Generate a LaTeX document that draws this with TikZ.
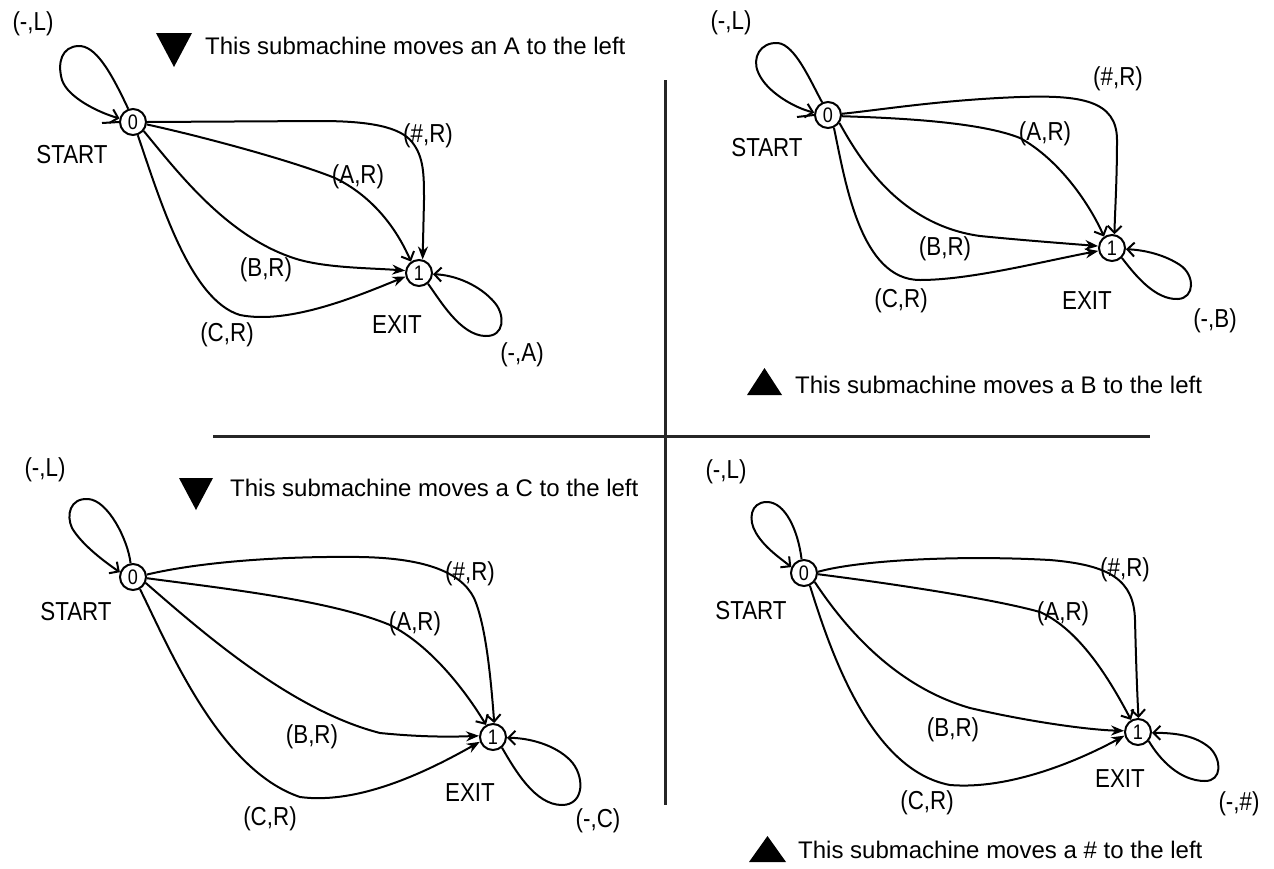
\documentclass[tikz,border=0pt]{standalone}
\usepackage{fontspec}
\setmainfont{Liberation Sans}
\newfontfamily\lblfont[FakeStretch=0.86]{Liberation Sans}
\usetikzlibrary{arrows.meta}
\tikzset{
  stnode/.style={circle,draw,line width=2pt,minimum size=26pt,inner sep=0pt,
    font=\lblfont\fontsize{21}{21}\selectfont},
  lbl/.style={inner sep=0pt,font=\lblfont\fontsize{26}{26}\selectfont},
  captxt/.style={inner sep=0pt,anchor=west,font=\fontsize{24}{24}\selectfont},
  wire/.style={line width=2pt},
  barb/.style={wire,-{Straight Barb[length=7pt,width=14pt,line width=2pt]}},
  solidtip/.style={wire,-{Stealth[length=13pt,width=10pt]}},
  divider/.style={line width=3pt,draw=black!85}
}
\begin{document}
\begin{tikzpicture}[x=1pt,y=-1pt]
\useasboundingbox (0,0) rectangle (1274,868);

% dividers between the four submachines
\coordinate (vtop) at (665,80);
\coordinate (vbot) at (665,805);
\coordinate (hl) at (213,436);
\coordinate (hr) at (1150,436);
\draw[divider] (vtop) -- (vbot);
\draw[divider] (hl) -- (hr);

% ---------- submachine for A (top left) ----------
\node[stnode] (q1s0) at (133,122) {0};
\node[stnode] (q1s1) at (419,273) {1};
\node[lbl] (q1L) at (33,24) {(-,L)};
\node[lbl] (q1start) at (72,155) {START};
\node[lbl] (q1exit) at (397,325) {EXIT};
\node[lbl] (q1loop) at (522,355) {(-,A)};
\node[lbl] (q1h) at (428,136) {(\#,R)};
\node[lbl] (q1a) at (358,177) {(A,R)};
\node[lbl] (q1b) at (266,270) {(B,R)};
\node[lbl] (q1c) at (227,335) {(C,R)};
\fill (156,33) -- (192,33) -- (174,67) -- cycle;
\node[captxt] (q1cap) at (205,46) {This submachine moves an A to the left};
\coordinate (q1stub) at (102,123);
\draw[wire] (q1stub) -- (q1s0.west);
\draw[barb] (q1s0.110) .. controls (110,70) and (95,45) .. (78,46)
  .. controls (62,47) and (57,62) .. (62,80)
  .. controls (68,98) and (100,113) .. (q1s0.165);
\draw[solidtip] (q1s0.east) -- (320,121) .. controls (370,121) and (400,127) .. (412,142)
  .. controls (424,157) and (424,175) .. (424,200) -- (q1s1.75);
\draw[barb] (q1s0.-10) .. controls (200,136) and (290,160) .. (335,178)
  .. controls (370,195) and (395,225) .. (q1s1.125);
\draw[solidtip] (q1s0.-40) .. controls (180,175) and (230,240) .. (300,260)
  .. controls (330,268) and (370,268) .. (q1s1.170);
\draw[solidtip] (q1s0.-70) .. controls (160,200) and (190,300) .. (240,315)
  .. controls (290,325) and (360,295) .. (q1s1.195);
\draw[barb] (q1s1.-50) .. controls (440,300) and (460,335) .. (485,336)
  .. controls (505,337) and (505,315) .. (495,303)
  .. controls (480,285) and (455,275) .. (q1s1.-5);

% ---------- submachine for B (top right) ----------
\node[stnode] (q2s0) at (828,115) {0};
\node[stnode] (q2s1) at (1112,248) {1};
\node[lbl] (q2L) at (731,23) {(-,L)};
\node[lbl] (q2start) at (767,148) {START};
\node[lbl] (q2exit) at (1087,301) {EXIT};
\node[lbl] (q2loop) at (1215,321) {(-,B)};
\node[lbl] (q2h) at (1118,79) {(\#,R)};
\node[lbl] (q2a) at (1045,134) {(A,R)};
\node[lbl] (q2b) at (945,249) {(B,R)};
\node[lbl] (q2c) at (901,301) {(C,R)};
\fill (747,395) -- (782,395) -- (764.5,368) -- cycle;
\node[captxt] (q2cap) at (795,385) {This submachine moves a B to the left};
\coordinate (q2stub) at (797,117);
\draw[wire] (q2stub) -- (q2s0.west);
\draw[barb] (q2s0.115) .. controls (810,80) and (795,45) .. (778,43)
  .. controls (760,42) and (752,58) .. (758,72)
  .. controls (766,92) and (795,108) .. (q2s0.170);
\draw[barb] (q2s0.5) .. controls (880,110) and (940,100) .. (1020,97)
  .. controls (1080,95) and (1117,100) .. (1117,140)
  .. controls (1117,180) and (1115,210) .. (q2s1.80);
\draw[barb] (q2s0.-5) .. controls (900,118) and (980,122) .. (1020,138)
  .. controls (1060,160) and (1090,205) .. (q2s1.125);
\draw[solidtip] (q2s0.-35) .. controls (860,160) and (900,225) .. (980,236)
  .. controls (1020,240) and (1060,243) .. (q2s1.172);
\draw[solidtip] (q2s0.-65) .. controls (845,180) and (860,280) .. (920,280)
  .. controls (970,280) and (1040,262) .. (q2s1.192);
\draw[barb] (q2s1.-45) .. controls (1135,275) and (1155,300) .. (1178,299)
  .. controls (1195,298) and (1195,275) .. (1180,265)
  .. controls (1165,255) and (1145,250) .. (q2s1.-5);

% ---------- submachine for C (bottom left) ----------
\node[stnode] (q3s0) at (133,577) {0};
\node[stnode] (q3s1) at (493,737) {1};
\node[lbl] (q3L) at (45,470) {(-,L)};
\node[lbl] (q3start) at (76,612) {START};
\node[lbl] (q3exit) at (470,793) {EXIT};
\node[lbl] (q3loop) at (598,821) {(-,C)};
\node[lbl] (q3h) at (470,574) {(\#,R)};
\node[lbl] (q3a) at (415,624) {(A,R)};
\node[lbl] (q3b) at (312,737) {(B,R)};
\node[lbl] (q3c) at (270,819) {(C,R)};
\fill (179,478) -- (213,478) -- (196,510) -- cycle;
\node[captxt] (q3cap) at (230,488) {This submachine moves a C to the left};
\draw[barb] (q3s0.100) .. controls (128,540) and (108,500) .. (88,499)
  .. controls (70,498) and (66,515) .. (72,528)
  .. controls (82,545) and (105,562) .. (q3s0.160);
\draw[barb] (q3s0.10) .. controls (200,562) and (280,556) .. (360,557)
  .. controls (420,558) and (460,570) .. (474,598)
  .. controls (486,625) and (491,680) .. (q3s1.85);
\draw[barb] (q3s0.-5) .. controls (220,588) and (330,600) .. (390,625)
  .. controls (430,645) and (465,690) .. (q3s1.120);
\draw[solidtip] (q3s0.-25) .. controls (200,630) and (290,710) .. (380,733)
  .. controls (420,737) and (450,737) .. (q3s1.175);
\draw[solidtip] (q3s0.-60) .. controls (170,650) and (220,770) .. (300,797)
  .. controls (360,805) and (430,770) .. (q3s1.200);
\draw[barb] (q3s1.-50) .. controls (515,770) and (535,805) .. (562,805)
  .. controls (585,805) and (585,775) .. (570,760)
  .. controls (555,745) and (530,738) .. (q3s1.-3);

% ---------- submachine for # (bottom right) ----------
\node[stnode] (q4s0) at (804,573) {0};
\node[stnode] (q4s1) at (1138,732) {1};
\node[lbl] (q4L) at (726,472) {(-,L)};
\node[lbl] (q4start) at (751,611) {START};
\node[lbl] (q4exit) at (1120,779) {EXIT};
\node[lbl] (q4loop) at (1239,804) {(-,\#)};
\node[lbl] (q4h) at (1125,570) {(\#,R)};
\node[lbl] (q4a) at (1063,614) {(A,R)};
\node[lbl] (q4b) at (953,730) {(B,R)};
\node[lbl] (q4c) at (927,803) {(C,R)};
\fill (749,862) -- (786,862) -- (767.5,836) -- cycle;
\node[captxt] (q4cap) at (798,850) {This submachine moves a \# to the left};
\draw[barb] (q4s0.100) .. controls (798,530) and (785,502) .. (767,502)
  .. controls (750,502) and (748,520) .. (756,533)
  .. controls (765,548) and (780,558) .. (q4s0.155);
\draw[barb] (q4s0.5) .. controls (860,560) and (960,555) .. (1050,560)
  .. controls (1110,565) and (1134,580) .. (1135,620)
  .. controls (1136,660) and (1137,690) .. (q4s1.88);
\draw[barb] (q4s0.-5) .. controls (880,582) and (990,598) .. (1040,612)
  .. controls (1080,630) and (1110,680) .. (q4s1.120);
\draw[solidtip] (q4s0.-40) .. controls (840,620) and (890,685) .. (970,708)
  .. controls (1030,722) and (1090,730) .. (q4s1.175);
\draw[solidtip] (q4s0.-65) .. controls (830,650) and (870,770) .. (950,785)
  .. controls (1010,790) and (1080,760) .. (q4s1.195);
\draw[barb] (q4s1.-40) .. controls (1160,760) and (1180,781) .. (1205,781)
  .. controls (1222,781) and (1222,760) .. (1210,748)
  .. controls (1195,735) and (1175,733) .. (q4s1.-3);
\end{tikzpicture}
\end{document}
